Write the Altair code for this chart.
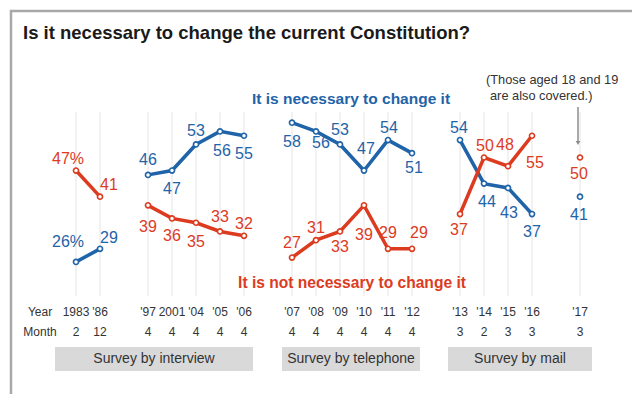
import altair as alt
import pandas as pd

# ---------------- data ----------------
years = ["1983", "'86", "'97", "2001", "'04", "'05", "'06", "'07", "'08", "'09",
         "'10", "'11", "'12", "'13", "'14", "'15", "'16", "'17"]
months = ["2", "12", "4", "4", "4", "4", "4", "4", "4", "4",
          "4", "4", "4", "3", "2", "3", "3", "3"]
segment = [0, 0, 1, 1, 1, 1, 1, 2, 2, 2, 2, 2, 2, 3, 3, 3, 3, 4]
necessary = [26, 29, 46, 47, 53, 56, 55, 58, 56, 53, 47, 54, 51, 54, 44, 43, 37, 41]
not_necessary = [47, 41, 39, 36, 35, 33, 32, 27, 31, 33, 39, 29, 29, 37, 50, 48, 55, 50]
modes = ["Survey by interview", "Survey by telephone", "Survey by mail"]

# ---------------- layout / style (label offsets in pixels) ----------------
nec_off = [(-8, -20), (9, -11), (0, -15), (0, 18), (0, -13), (2, 20), (0, 18), (0, 19), (5, 12),
           (0, -14), (2, -22), (1, -12), (2, 15), (-1, -12), (3, 18), (1, 25), (0, 18), (-1, 18)]
not_off = [(-8, -12), (9, -12), (0, 22), (0, 18), (0, 19), (0, -14), (0, -12), (0, -15), (0, -12),
           (0, 16), (0, 30), (0, -16), (7, -16), (-1, 16), (1, -12), (-3, -21), (3, 27), (-1, 16)]
box_px = [(55, 253), (282, 420), (448, 592)]

FONT = "Liberation Sans, Arial, sans-serif"
BLUE = "#1f63a8"
RED = "#dc3b1f"
TXT = "#333333"
W, H = 632, 394
STEP = 24.0       # px per survey slot
X0 = 76.0         # px of first slot
PPU = 4.35        # px per percentage point
Y0 = 375.0        # px of 0%

rows = []
for i, y in enumerate(years):
    slot = i + segment[i]
    for ser, vals, offs in (("nec", necessary, nec_off), ("not", not_necessary, not_off)):
        v = vals[i]
        lab = f"{v}%" if i == 0 else str(v)
        dx, dy = offs[i]
        rows.append(dict(year=y, month=months[i], slot=slot, seg=segment[i], series=ser,
                         value=v, label=lab, lx=slot + dx / STEP, ly=v - dy / PPU))
df = pd.DataFrame(rows)

xs = alt.Scale(domain=[-X0 / STEP, (W - X0) / STEP], range=[0, W], nice=False, zero=False)
ys = alt.Scale(domain=[(Y0 - H) / PPU, Y0 / PPU], range=[H, 0], nice=False, zero=False)
cs = alt.Scale(domain=["nec", "not"], range=[BLUE, RED])

base = alt.Chart(df)

grid = alt.Chart(df[df.series == "nec"]).mark_rule(color="#e4e4e4", strokeWidth=1).encode(
    x=alt.X("slot:Q", scale=xs, axis=None), y=alt.value(112), y2=alt.value(296))

lines = base.transform_filter("datum.seg < 4").mark_line(strokeWidth=3.5).encode(
    x=alt.X("slot:Q", scale=xs, axis=None),
    y=alt.Y("value:Q", scale=ys, axis=None),
    color=alt.Color("series:N", scale=cs, legend=None),
    detail=["series:N", "seg:O"], order="slot:Q")

pts = base.mark_point(shape="circle", filled=True, fill="white", size=26, strokeWidth=1.6,
                      opacity=1).encode(
    x=alt.X("slot:Q", scale=xs, axis=None),
    y=alt.Y("value:Q", scale=ys, axis=None),
    stroke=alt.Stroke("series:N", scale=cs, legend=None))

labels = base.mark_text(font=FONT, fontSize=16, baseline="middle", align="center").encode(
    x=alt.X("lx:Q", scale=xs, axis=None),
    y=alt.Y("ly:Q", scale=ys, axis=None),
    text="label:N",
    color=alt.Color("series:N", scale=cs, legend=None))

yr = alt.Chart(df[df.series == "nec"]).mark_text(font=FONT, fontSize=12, color=TXT,
                                                 baseline="middle").encode(
    x=alt.X("slot:Q", scale=xs, axis=None), y=alt.value(312), text="year:N")
mo = alt.Chart(df[df.series == "nec"]).mark_text(font=FONT, fontSize=12, color=TXT,
                                                 baseline="middle").encode(
    x=alt.X("slot:Q", scale=xs, axis=None), y=alt.value(332), text="month:N")

rowlab = alt.Chart(pd.DataFrame({"t": ["Year", "Month"], "py": [312, 332]})).mark_text(
    font=FONT, fontSize=12, color=TXT, baseline="middle").encode(
    x=alt.value(40), y=alt.Y("py:Q", scale=None), text="t:N")

boxdf = pd.DataFrame({"mode": modes, "x1": [b[0] for b in box_px], "x2": [b[1] for b in box_px]})
boxdf["xc"] = (boxdf.x1 + boxdf.x2) / 2
boxes = alt.Chart(boxdf).mark_rect(color="#d9d9d9").encode(
    x=alt.X("x1:Q", scale=None), x2="x2:Q", y=alt.value(347), y2=alt.value(371))
boxtext = alt.Chart(boxdf).mark_text(font=FONT, fontSize=14, color=TXT, baseline="middle").encode(
    x=alt.X("xc:Q", scale=None), y=alt.value(359), text="mode:N")

frame = alt.Chart(pd.DataFrame({"a": [0]})).mark_rect(
    fill="transparent", stroke="#a8a8a8", strokeWidth=2.5).encode(
    x=alt.value(11), x2=alt.value(W + 20), y=alt.value(11), y2=alt.value(H + 20))

title = alt.Chart(pd.DataFrame({"t": ["Is it necessary to change the current Constitution?"]})).mark_text(
    font=FONT, fontSize=18.5, fontWeight="bold", align="left", baseline="middle", color="#1a1a1a").encode(
    x=alt.value(23), y=alt.value(33), text="t:N")

ann_nec = alt.Chart(pd.DataFrame({"t": ["It is necessary to change it"]})).mark_text(
    font=FONT, fontSize=15.5, fontWeight="bold", color=BLUE, baseline="middle").encode(
    x=alt.value(351), y=alt.value(99), text="t:N")
ann_not = alt.Chart(pd.DataFrame({"t": ["It is not necessary to change it"]})).mark_text(
    font=FONT, fontSize=15.6, fontWeight="bold", color=RED, baseline="middle").encode(
    x=alt.value(352), y=alt.value(283), text="t:N")

note = alt.Chart(pd.DataFrame({"t": ["(Those aged 18 and 19", "are also covered.)"], "py": [80, 96],
                               "px": [486, 490]})).mark_text(
    font=FONT, fontSize=12.8, color=TXT, align="left", baseline="middle").encode(
    x=alt.X("px:Q", scale=None), y=alt.Y("py:Q", scale=None), text="t:N")

arrow = alt.Chart(pd.DataFrame({"a": [0]})).mark_rule(color="#8c8c8c", strokeWidth=1.5).encode(
    x=alt.value(578), y=alt.value(107), y2=alt.value(142))
head = alt.Chart(pd.DataFrame({"a": [0]})).mark_point(
    shape="triangle-down", filled=True, color="#8c8c8c", size=22, opacity=1).encode(
    x=alt.value(578), y=alt.value(143))

chart = alt.layer(frame, grid, boxes, boxtext, lines, pts, labels, yr, mo, rowlab,
                  title, ann_nec, ann_not, note, arrow, head).properties(
    width=W, height=H, autosize=alt.AutoSizeParams(type="none"), padding=0,
    background="white").configure_view(stroke=None)

chart.save("out.html", embed_options={"renderer": "svg", "actions": False})
